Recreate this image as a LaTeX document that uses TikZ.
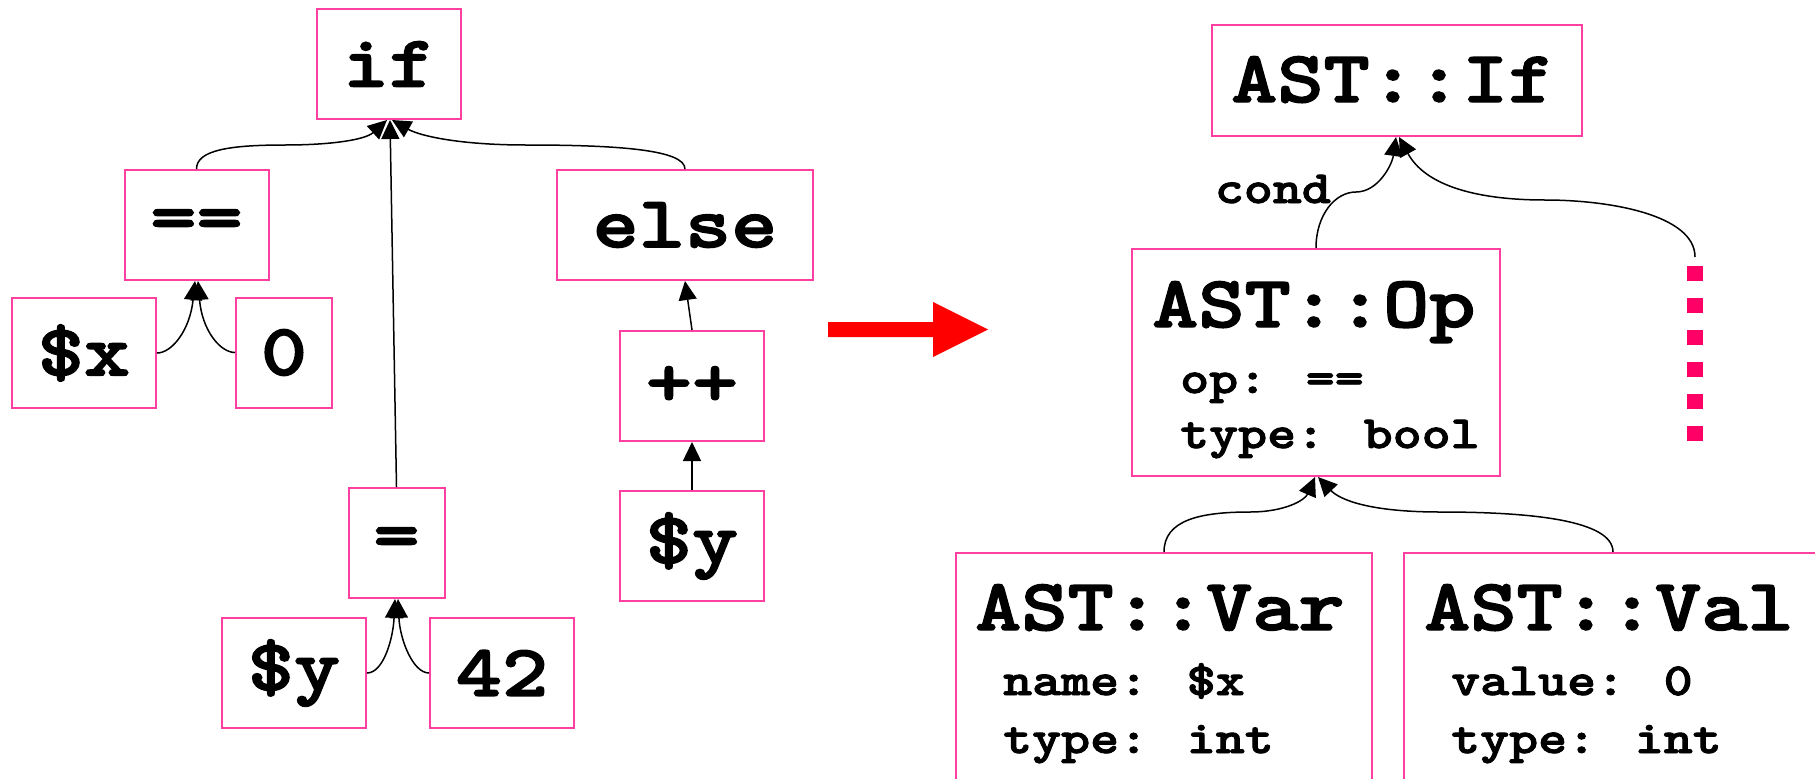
\documentclass[tikz,border=0pt]{standalone}
\usepackage{fontspec}
\newfontfamily\codefont{lmmonolt10-bold.otf}[FakeStretch=1.2,FakeBold=2]
\usetikzlibrary{arrows.meta}
\definecolor{boxpink}{RGB}{255,64,160}
\definecolor{dotpink}{RGB}{255,0,102}
\newcommand\bigcode{\codefont\fontsize{73.3}{73.3}\selectfont}
\newcommand\smallcode{\codefont\fontsize{46}{46}\selectfont}
\begin{document}
\begin{tikzpicture}[x=1pt,y=-1pt,
  tbox/.style={draw=boxpink, line width=2pt, inner sep=0pt, minimum height=110pt, font=\bigcode},
  rbox/.style={draw=boxpink, line width=2pt, inner sep=0pt},
  ttl/.style={inner sep=0pt, anchor=base west, font=\bigcode},
  fld/.style={inner sep=0pt, anchor=base west, font=\smallcode},
  conn/.style={line width=1.5pt, -{Triangle[length=19pt,width=18pt]}},
]
\useasboundingbox (0,0) rectangle (1815,779);
\fill[white] (0,0) rectangle (1815,779);

% ---- source-level tree ----
\node[tbox, minimum width=144pt] (if)     at (389,64)    {if};
\node[tbox, minimum width=144pt] (eqeq)   at (196.5,225) {==};
\node[tbox, minimum width=256pt] (else)   at (685,225)   {else};
\node[tbox, minimum width=144pt] (xvar)   at (84,353)    {\$x};
\node[tbox, minimum width=96pt]  (zero)   at (284,352.5) {0};
\node[tbox, minimum width=144pt] (plus)   at (692,386)   {++};
\node[tbox, minimum width=96pt]  (assign) at (396.5,543) {=};
\node[tbox, minimum width=144pt] (yr)     at (692,546)   {\$y};
\node[tbox, minimum width=144pt] (yb)     at (294,673)   {\$y};
\node[tbox, minimum width=144pt] (ftwo)   at (502,673)   {42};

\draw[conn] (eqeq.north) .. controls (196.5,150) and (230,145) .. (285,145)
            .. controls (330,145) and (365,140) .. ([xshift=-2pt]if.south);
\draw[conn] (assign.north) -- ([xshift=1pt]if.south);
\draw[conn] (else.north) .. controls (685,150) and (620,145) .. (526,145)
            .. controls (460,145) and (420,136) .. ([xshift=3pt]if.south);
\draw[conn] (xvar.east) .. controls (172,353) and (190,330) .. ([xshift=-1.5pt]eqeq.south);
\draw[conn] (zero.west) .. controls (220,352.5) and (202,330) .. ([xshift=1.5pt]eqeq.south);
\draw[conn] (plus.north) -- (else.south);
\draw[conn] (yr.north) -- (plus.south);
\draw[conn] (yb.east) .. controls (383,673) and (393,640) .. ([xshift=-1.5pt]assign.south);
\draw[conn] (ftwo.west) .. controls (413,673) and (400,640) .. ([xshift=1.5pt]assign.south);

% ---- transformation arrow ----
\fill[red] (828,322) -- (933,322) -- (933,302) -- (988,329.5) -- (933,357)
           -- (933,337) -- (828,337) -- cycle;

% ---- typed AST ----
\node[rbox, minimum width=370pt, minimum height=111pt] (astif) at (1397,80.5) {};
\node[rbox, minimum width=368pt, minimum height=227pt] (op)    at (1316,362.5) {};
\node[rbox, minimum width=416pt, minimum height=227pt] (var)   at (1164,666.5) {};
\node[rbox, minimum width=418pt, minimum height=227pt] (val)   at (1613,666.5) {};

\node[ttl] (iftitle)  at (1231,102) {AST::If};
\node[ttl] (optitle)  at (1152,327) {AST::Op};
\node[fld] (opop)     at (1180,393) {op: ==};
\node[fld] (optype)   at (1180,448) {type: bool};
\node[ttl] (vartitle) at (975,630)  {AST::Var};
\node[fld] (varname)  at (1003,695) {name: \$x};
\node[fld] (vartype)  at (1003,753) {type: int};
\node[ttl] (valtitle) at (1424,630) {AST::Val};
\node[fld] (valvalue) at (1451,695) {value: 0};
\node[fld] (valtype)  at (1451,753) {type: int};
\node[fld, anchor=base east] (condlbl) at (1331,203) {cond};

% elided remaining children
\coordinate (dtop) at (1695,257);
\draw[dotpink, line width=16pt, dash pattern=on 15.3pt off 16.7pt] (1695,266) -- (1695,441);

\draw[conn] (op.north) .. controls (1316,215) and (1335,192) .. (1356,192)
            .. controls (1378,192) and (1392,165) .. ([xshift=-1pt]astif.south);
\draw[conn] (dtop) .. controls (1695,215) and (1610,200) .. (1545,200)
            .. controls (1475,200) and (1425,185) .. ([xshift=2pt]astif.south);
\draw[conn] (var.north) .. controls (1164,520) and (1200,512) .. (1250,512)
            .. controls (1285,512) and (1305,500) .. ([xshift=-1pt]op.south);
\draw[conn] (val.north) .. controls (1613,520) and (1530,512) .. (1440,512)
            .. controls (1370,512) and (1340,500) .. ([xshift=2pt]op.south);
\end{tikzpicture}
\end{document}
